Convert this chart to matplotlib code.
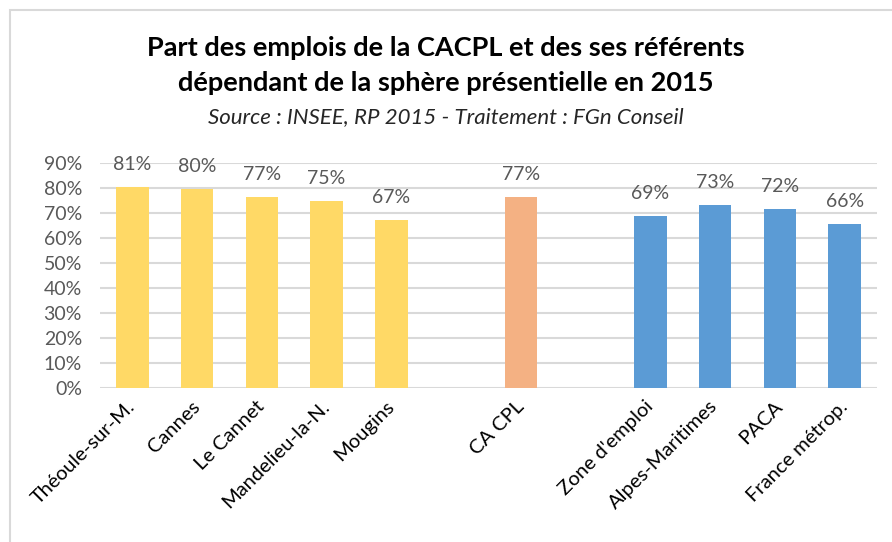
import matplotlib
matplotlib.use("Agg")
import matplotlib.pyplot as plt
from matplotlib.patches import Rectangle
from matplotlib.ticker import PercentFormatter

# data (share of jobs, %)
communes = ["Théoule-sur-M.", "Cannes", "Le Cannet", "Mandelieu-la-N.", "Mougins"]
communes_val = [80.6, 79.6, 76.6, 74.8, 67.2]
epci = ["CA CPL"]
epci_val = [76.7]
refs = ["Zone d'emploi", "Alpes-Maritimes", "PACA", "France métrop."]
refs_val = [69.0, 73.3, 71.9, 65.7]

# slot positions (gaps at slot 5 and 7, as in the Excel chart)
x_communes = [0, 1, 2, 3, 4]
x_epci = [6]
x_refs = [8, 9, 10, 11]

plt.rcParams["font.family"] = ["Lato", "DejaVu Sans"]
GREY = "#595959"

fig = plt.figure(figsize=(8.92, 5.42), dpi=100)
ax = fig.add_axes([100 / 892, 1 - 388.3 / 542, 777 / 892, 225 / 542])

groups = [(x_communes, communes_val, "#FFD966"),
          (x_epci, epci_val, "#F4B183"),
          (x_refs, refs_val, "#5B9BD5")]
for xs, vals, col in groups:
    bars = ax.bar(xs, vals, width=0.5, color=col, zorder=3)
    for b, v in zip(bars, vals):
        ax.annotate(f"{round(v):.0f}%", (b.get_x() + b.get_width() / 2, v),
                    xytext=(0, 10), textcoords="offset points",
                    ha="center", va="bottom", fontsize=14, color=GREY)

ax.set_xlim(-0.5, 11.5)
ax.set_ylim(0, 90)
ax.set_yticks(range(0, 91, 10))
ax.yaxis.set_major_formatter(PercentFormatter(decimals=0))
ax.grid(axis="y", color="#D9D9D9", linewidth=1.5, zorder=0)
for s in ax.spines.values():
    s.set_visible(False)
ax.tick_params(axis="y", length=0, labelsize=14, labelcolor=GREY, pad=13)
ax.tick_params(axis="x", length=0, pad=11)

ax.set_xticks(x_communes + x_epci + x_refs)
ax.set_xticklabels(communes + epci + refs, rotation=45, ha="right", va="center",
                   rotation_mode="anchor", fontsize=14.5, color="black")

fig.text(0.5, 1 - 48 / 542, "Part des emplois de la CACPL et des ses référents",
         ha="center", va="center", fontsize=19.5, fontweight="bold")
fig.text(0.5, 1 - 83 / 542, "dépendant de la sphère présentielle en 2015",
         ha="center", va="center", fontsize=19.5, fontweight="bold")
fig.text(0.5, 1 - 117 / 542, "Source : INSEE, RP 2015 - Traitement : FGn Conseil",
         ha="center", va="center", fontsize=16, style="italic", color="#262626")

# chart frame (cropped on the right and bottom in the reference)
fig.patches.append(Rectangle((9.5 / 892, -0.05), 1.0, 1.05 - 10 / 542,
                             transform=fig.transFigure, fill=False,
                             edgecolor="#D9D9D9", linewidth=1.5))

fig.savefig("out.png", dpi=100)
